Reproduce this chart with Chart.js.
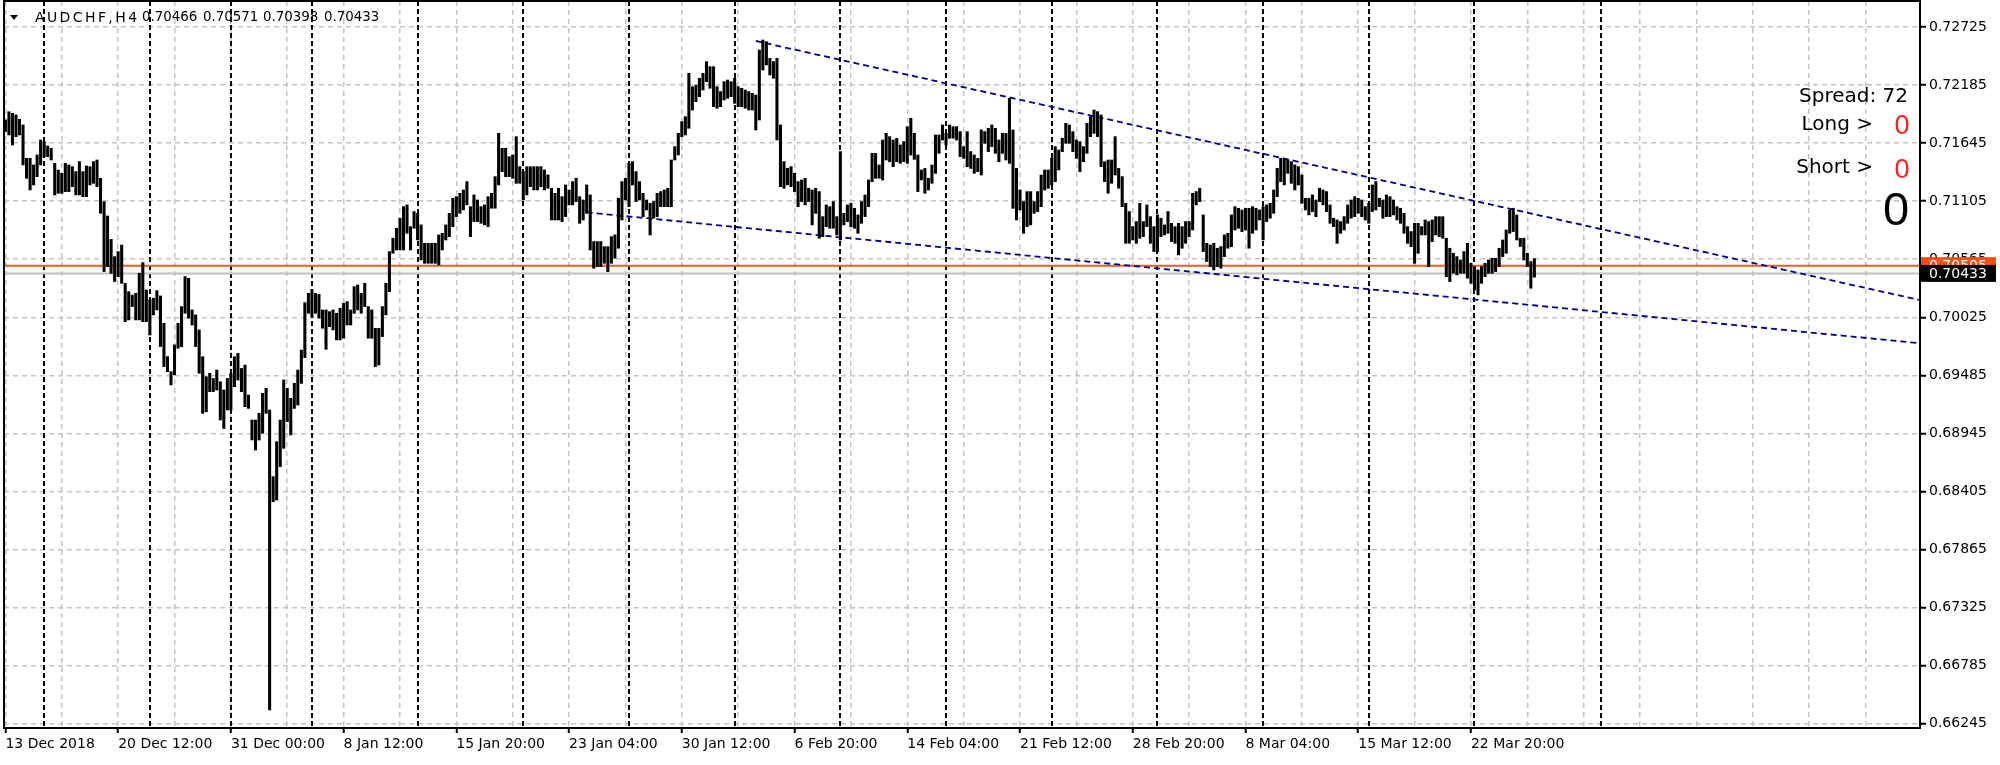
<!DOCTYPE html>
<html><head><meta charset="utf-8">
<script src="https://cdn.jsdelivr.net/npm/chart.js@4.4.1/dist/chart.umd.min.js"></script>
<style>html,body{margin:0;padding:0;background:#fff;overflow:hidden}canvas{display:block}</style>
</head><body>
<canvas id="c" width="2000" height="765" style="width:2000px;height:765px"></canvas>
<script>
// ---------- data ----------
const symbol = 'AUDCHF,H4';
const lastOHLC = [0.70466, 0.70571, 0.70398, 0.70433];
const bidPrice = 0.70433;
const askPrice = 0.70505;
const spreadPoints = 72;
const longCount = 0, shortCount = 0, netCount = 0;

const highs = [
0.71860,0.71937,0.71922,0.71907,0.71866,0.71814,0.71504,0.71504,0.71442,0.71535,
0.71674,0.71659,0.71618,0.71597,0.71457,0.71395,0.71364,0.71457,0.71442,0.71426,
0.71380,0.71473,0.71380,0.71432,0.71426,0.71473,0.71488,0.71318,0.71101,0.70967,
0.70750,0.70589,0.70636,0.70697,0.70341,0.70263,0.70232,0.70248,0.70434,0.70533,
0.70279,0.70186,0.70202,0.70273,0.70223,0.69969,0.69659,0.69519,0.69767,0.69969,
0.70124,0.70403,0.70387,0.70093,0.70047,0.69907,0.69658,0.69472,0.69503,0.69456,
0.69534,0.69425,0.69348,0.69456,0.69503,0.69658,0.69689,0.69549,0.69580,0.69301,
0.69069,0.69069,0.69131,0.69317,0.69364,0.69162,0.68542,0.68868,0.69069,0.69441,
0.69364,0.69271,0.69410,0.69534,0.69720,0.70161,0.70248,0.70285,0.70248,0.70239,
0.70093,0.70093,0.70077,0.70093,0.70062,0.70109,0.70155,0.70171,0.70093,0.70310,
0.70325,0.70248,0.70341,0.70124,0.70093,0.69922,0.69922,0.70124,0.70341,0.70636,
0.70760,0.70853,0.70946,0.71054,0.71070,0.70868,0.71008,0.70992,0.70884,0.70713,
0.70713,0.70713,0.70713,0.70791,0.70806,0.70884,0.70992,0.71132,0.71147,0.71178,
0.71209,0.71287,0.71054,0.71163,0.71116,0.71054,0.71070,0.71147,0.71178,0.71333,
0.71736,0.71597,0.71597,0.71519,0.71535,0.71705,0.71426,0.71380,0.71426,0.71426,
0.71426,0.71426,0.71426,0.71395,0.71349,0.71225,0.71178,0.71225,0.71147,0.71256,
0.71209,0.71287,0.71318,0.71147,0.71116,0.71256,0.71163,0.70729,0.70729,0.70729,
0.70682,0.70682,0.70775,0.70791,0.71132,0.71287,0.71318,0.71457,0.71473,0.71380,
0.71287,0.71178,0.71116,0.71085,0.71101,0.71178,0.71194,0.71209,0.71225,0.71488,
0.71612,0.71736,0.71845,0.71891,0.72294,0.72170,0.72186,0.72248,0.72294,0.72403,
0.72356,0.72356,0.72170,0.72124,0.72217,0.72232,0.72217,0.72248,0.72170,0.72155,
0.72139,0.72124,0.72108,0.72093,0.72511,0.72604,0.72589,0.72434,0.72403,0.72434,
0.71814,0.71473,0.71411,0.71426,0.71364,0.71287,0.71302,0.71318,0.71225,0.71209,
0.71225,0.71194,0.70961,0.71070,0.71054,0.71101,0.70961,0.71566,0.70992,0.71070,
0.71085,0.71039,0.70977,0.71101,0.71162,0.71302,0.71550,0.71550,0.71441,0.71674,
0.71736,0.71705,0.71674,0.71690,0.71628,0.71659,0.71798,0.71876,0.71736,0.71534,
0.71395,0.71410,0.71318,0.71441,0.71721,0.71721,0.71814,0.71736,0.71814,0.71798,
0.71798,0.71752,0.71612,0.71752,0.71566,0.71534,0.71503,0.71767,0.71752,0.71783,
0.71814,0.71783,0.71674,0.71736,0.71736,0.72061,0.71767,0.71410,0.71209,0.71101,
0.71194,0.71194,0.71101,0.71194,0.71348,0.71395,0.71395,0.71503,0.71612,0.71581,
0.71690,0.71829,0.71814,0.71752,0.71674,0.71659,0.71612,0.71829,0.71891,0.71953,
0.71938,0.71907,0.71472,0.71488,0.71488,0.71705,0.71410,0.71333,0.71085,0.71008,
0.70868,0.70915,0.71085,0.70915,0.71070,0.70961,0.70868,0.70977,0.70946,0.70884,
0.71008,0.70899,0.70868,0.70899,0.70868,0.70915,0.70915,0.71178,0.71194,0.71225,
0.70977,0.70713,0.70698,0.70713,0.70667,0.70682,0.70791,0.70806,0.70977,0.71054,
0.71039,0.71023,0.71039,0.71039,0.71054,0.71039,0.71023,0.71054,0.71070,0.71085,
0.71209,0.71411,0.71504,0.71504,0.71488,0.71473,0.71442,0.71426,0.71349,0.71132,
0.71132,0.71163,0.71116,0.71225,0.71209,0.71194,0.71070,0.70946,0.70930,0.70915,
0.70961,0.71070,0.71116,0.71147,0.71132,0.71116,0.71054,0.71085,0.71256,0.71287,
0.71132,0.71116,0.71163,0.71147,0.71116,0.71054,0.71039,0.70992,0.70868,0.70822,
0.70899,0.70899,0.70868,0.70930,0.70915,0.70930,0.70961,0.70961,0.70961,0.70760,
0.70667,0.70620,0.70589,0.70558,0.70636,0.70713,0.70527,0.70496,0.70465,0.70496,
0.70527,0.70558,0.70574,0.70574,0.70667,0.70744,0.70837,0.71023,0.71039,0.70977,
0.70760,0.70760,0.70620,0.70543,0.70571
];
const lows = [
0.71752,0.71721,0.71628,0.71705,0.71721,0.71442,0.71318,0.71209,0.71256,0.71333,
0.71442,0.71519,0.71519,0.71488,0.71163,0.71178,0.71178,0.71193,0.71193,0.71240,
0.71163,0.71163,0.71147,0.71147,0.71256,0.71271,0.71240,0.70992,0.70450,0.70496,
0.70434,0.70357,0.70403,0.70341,0.69984,0.70000,0.70124,0.70000,0.70000,0.69984,
0.69984,0.69860,0.70047,0.70093,0.69752,0.69566,0.69519,0.69396,0.69489,0.69737,
0.69752,0.70062,0.70016,0.69953,0.69752,0.69504,0.69131,0.69146,0.69333,0.69333,
0.69348,0.69069,0.68991,0.69162,0.69162,0.69379,0.69441,0.69333,0.69193,0.69177,
0.68883,0.68790,0.68883,0.68945,0.69131,0.66372,0.68309,0.68325,0.68635,0.68806,
0.69054,0.68930,0.69177,0.69208,0.69410,0.69650,0.70062,0.70031,0.70062,0.70016,
0.69923,0.69727,0.69938,0.69907,0.69814,0.69814,0.69830,0.69953,0.69953,0.70062,
0.70093,0.70062,0.70124,0.69830,0.69830,0.69566,0.69581,0.69845,0.70047,0.70263,
0.70620,0.70651,0.70651,0.70651,0.70806,0.70651,0.70853,0.70744,0.70558,0.70527,
0.70527,0.70527,0.70527,0.70512,0.70651,0.70744,0.70775,0.70868,0.70961,0.70992,
0.71023,0.71070,0.70775,0.70915,0.70915,0.70899,0.70884,0.70868,0.71039,0.71039,
0.71256,0.71380,0.71333,0.71333,0.71318,0.71271,0.71271,0.71116,0.71163,0.71240,
0.71209,0.71209,0.71240,0.71209,0.71225,0.70930,0.70930,0.70930,0.70915,0.70961,
0.71070,0.71070,0.71101,0.70899,0.70930,0.70992,0.70651,0.70481,0.70496,0.70496,
0.70527,0.70449,0.70527,0.70574,0.70667,0.70930,0.71116,0.71054,0.71256,0.71101,
0.71116,0.70961,0.71023,0.70791,0.70946,0.70961,0.71054,0.71054,0.71054,0.71054,
0.71488,0.71535,0.71705,0.71721,0.71783,0.71953,0.72031,0.72077,0.72139,0.72217,
0.72155,0.71984,0.71969,0.71984,0.72046,0.72062,0.72077,0.72015,0.71984,0.71984,
0.71969,0.71953,0.71953,0.71767,0.71860,0.72325,0.72372,0.72279,0.72248,0.71674,
0.71240,0.71225,0.71256,0.71240,0.71194,0.71054,0.71101,0.71070,0.71101,0.70884,
0.70992,0.70760,0.70775,0.70868,0.70853,0.70853,0.70791,0.70744,0.70884,0.70915,
0.70868,0.70853,0.70806,0.70899,0.70961,0.71054,0.71286,0.71318,0.71318,0.71302,
0.71488,0.71472,0.71426,0.71472,0.71457,0.71472,0.71457,0.71534,0.71494,0.71194,
0.71302,0.71178,0.71209,0.71271,0.71364,0.71550,0.71674,0.71628,0.71690,0.71690,
0.71674,0.71519,0.71504,0.71426,0.71410,0.71364,0.71380,0.71348,0.71643,0.71566,
0.71612,0.71550,0.71472,0.71550,0.71488,0.71457,0.71038,0.70930,0.71023,0.70806,
0.70868,0.70884,0.70992,0.71008,0.71054,0.71209,0.71225,0.71256,0.71286,0.71395,
0.71566,0.71643,0.71643,0.71566,0.71503,0.71380,0.71472,0.71550,0.71705,0.71736,
0.71705,0.71426,0.71286,0.71178,0.71271,0.71348,0.71225,0.71054,0.70713,0.70713,
0.70744,0.70713,0.70760,0.70775,0.70868,0.70713,0.70636,0.70636,0.70775,0.70791,
0.70806,0.70729,0.70713,0.70605,0.70667,0.70713,0.70775,0.70837,0.71070,0.71101,
0.70636,0.70543,0.70496,0.70465,0.70496,0.70481,0.70589,0.70667,0.70682,0.70837,
0.70853,0.70822,0.70837,0.70667,0.70806,0.70837,0.70930,0.70744,0.70915,0.70946,
0.70992,0.71147,0.71287,0.71256,0.71364,0.71271,0.71209,0.71256,0.71085,0.71023,
0.70977,0.71008,0.70961,0.71101,0.71070,0.71008,0.70899,0.70868,0.70713,0.70806,
0.70837,0.70899,0.70946,0.70961,0.70992,0.70961,0.70930,0.70899,0.71008,0.71023,
0.71054,0.70946,0.70961,0.70961,0.70977,0.70930,0.70899,0.70806,0.70713,0.70682,
0.70527,0.70620,0.70791,0.70791,0.70496,0.70729,0.70791,0.70775,0.70760,0.70403,
0.70357,0.70434,0.70419,0.70434,0.70434,0.70388,0.70341,0.70279,0.70233,0.70341,
0.70403,0.70434,0.70434,0.70450,0.70496,0.70589,0.70620,0.70806,0.70822,0.70744,
0.70682,0.70558,0.70496,0.70295,0.70398
];

const yTicks = [0.66245,0.66785,0.67325,0.67865,0.68405,0.68945,0.69485,0.70025,0.70565,0.71105,0.71645,0.72185,0.72725];
const timeLabels = ['13 Dec 2018','20 Dec 12:00','31 Dec 00:00','8 Jan 12:00','15 Jan 20:00','23 Jan 04:00','30 Jan 12:00',
                    '6 Feb 20:00','14 Feb 04:00','21 Feb 12:00','28 Feb 20:00','8 Mar 04:00','15 Mar 12:00','22 Mar 20:00'];
const barsPerLabel = 32;
const barsPerGrid = 16;
const weekStartBars = [11,41,64,87,117,147,177,207,237,267,297,327,357,387,417,453];
const upperTrendX = [213.0, 543.46], upperTrendY = [0.72595, 0.70185];
const lowerTrendX = [165.0, 543.46], lowerTrendY = [0.71001, 0.69783];
const xMin = -0.4, xMax = 543.46, yMin = 0.66204, yMax = 0.72967;

// ---------- chart ----------
const FONT = '"DejaVu Sans", sans-serif';
const barData = highs.map((h, i) => ({x: i, y: [lows[i], h]}));
const gridTicks = [];
for (let v = 0; v <= xMax; v += barsPerGrid) gridTicks.push(v);
const isLabelTick = v => v % barsPerLabel === 0 && v / barsPerLabel < timeLabels.length;

const mt4 = {
  id: 'mt4',
  beforeDatasetsDraw(chart) {
    const {ctx, chartArea: a, scales: {x}} = chart;
    ctx.save();
    ctx.strokeStyle = '#000'; ctx.lineWidth = 2; ctx.setLineDash([5, 3]);
    weekStartBars.forEach(i => {
      const px = Math.round(x.getPixelForValue(i));
      ctx.beginPath(); ctx.moveTo(px, a.top); ctx.lineTo(px, a.bottom); ctx.stroke();
    });
    ctx.restore();
  },
  afterDraw(chart) {
    const {ctx, chartArea: a, scales: {y}} = chart;
    ctx.save();
    // frame
    ctx.strokeStyle = '#000'; ctx.lineWidth = 2; ctx.setLineDash([]);
    ctx.strokeRect(a.left, a.top, a.right - a.left, a.bottom - a.top);
    // price boxes
    const ya = y.getPixelForValue(askPrice), yb = y.getPixelForValue(bidPrice);
    ctx.font = '14px ' + FONT; ctx.textBaseline = 'middle'; ctx.textAlign = 'left';
    ctx.fillStyle = '#ff4f14'; ctx.fillRect(a.right + 1, ya - 8.5, 75, 17);
    ctx.fillStyle = '#fff'; ctx.fillText(askPrice.toFixed(5), a.right + 9, ya + 1);
    ctx.fillStyle = '#000'; ctx.fillRect(a.right + 1, yb - 8.5, 75, 17);
    ctx.fillStyle = '#fff'; ctx.fillText(bidPrice.toFixed(5), a.right + 9, yb + 1);
    // title
    ctx.fillStyle = '#000';
    ctx.beginPath(); ctx.moveTo(10, 15); ctx.lineTo(18, 15); ctx.lineTo(14, 20); ctx.closePath(); ctx.fill();
    ctx.font = '14px ' + FONT;
    ctx.letterSpacing = '2.4px';
    ctx.fillText(symbol, 35, 18);
    ctx.letterSpacing = '0px';
    ctx.font = '13.4px ' + FONT;
    const numX = [142, 203, 263, 324];
    lastOHLC.forEach((v, i) => ctx.fillText(v.toFixed(5), numX[i], 18));
    // info block
    ctx.textAlign = 'right';
    ctx.font = '20px ' + FONT;
    ctx.fillText('Spread: ' + spreadPoints, 1908, 97);
    ctx.fillText('Long >', 1873, 125);
    ctx.fillText('Short >', 1873, 168);
    ctx.textAlign = 'center';
    ctx.font = '27px "Liberation Sans", sans-serif';
    ctx.fillStyle = '#ff2020';
    ctx.fillText(String(longCount), 1902, 127);
    ctx.fillText(String(shortCount), 1902, 171);
    ctx.fillStyle = '#000';
    ctx.font = '47px "Liberation Sans", sans-serif';
    ctx.fillText(String(netCount), 1896, 212);
    ctx.restore();
  }
};

new Chart(document.getElementById('c'), {
  type: 'bar',
  data: {
    datasets: [
      {type: 'bar', data: barData, backgroundColor: '#000', borderWidth: 0, barThickness: 2.4, order: 0},
      {type: 'line', data: upperTrendX.map((v, i) => ({x: v, y: upperTrendY[i]})), borderColor: '#000080', borderWidth: 1.8, borderDash: [6, 4], pointRadius: 0, order: 1},
      {type: 'line', data: lowerTrendX.map((v, i) => ({x: v, y: lowerTrendY[i]})), borderColor: '#000080', borderWidth: 1.8, borderDash: [6, 4], pointRadius: 0, order: 1},
      {type: 'line', data: [{x: xMin, y: bidPrice}, {x: xMax, y: bidPrice}], borderColor: '#c0c0c0', borderWidth: 2, pointRadius: 0, order: 3},
      {type: 'line', data: [{x: xMin, y: askPrice}, {x: xMax, y: askPrice}], borderColor: '#ee5a28', borderWidth: 2, pointRadius: 0, order: 2}
    ]
  },
  options: {
    responsive: false, animation: false, devicePixelRatio: 1, events: [],
    layout: {padding: {left: 4, top: 1, right: 0, bottom: 0}},
    plugins: {legend: {display: false}, tooltip: {enabled: false}},
    scales: {
      x: {
        type: 'linear', min: xMin, max: xMax, offset: false,
        afterBuildTicks: s => { s.ticks = gridTicks.map(v => ({value: v})); },
        afterFit: s => { s.height = 37; s.paddingLeft = 0; s.paddingRight = 0; },
        ticks: {
          autoSkip: false, maxRotation: 0, minRotation: 0, align: 'start', padding: 3,
          color: '#000', font: {family: FONT, size: 14},
          callback: v => isLabelTick(v) ? timeLabels[v / barsPerLabel] : ''
        },
        grid: {
          offset: false, color: '#c4c4c4', lineWidth: 1.5, drawTicks: true, tickLength: 5, tickWidth: 2,
          tickColor: c => (c.tick && isLabelTick(c.tick.value)) ? '#000' : 'rgba(0,0,0,0)', tickBorderDash: []
        },
        border: {display: false, dash: [5, 4]}
      },
      y: {
        type: 'linear', position: 'right', min: yMin, max: yMax,
        afterBuildTicks: s => { s.ticks = yTicks.map(v => ({value: v})); },
        afterFit: s => { s.width = 80; s.paddingTop = 0; s.paddingBottom = 0; },
        ticks: {padding: 3, color: '#000', font: {family: FONT, size: 14}, callback: v => v.toFixed(5)},
        grid: {color: '#c4c4c4', lineWidth: 1.5, drawTicks: true, tickLength: 6, tickWidth: 2, tickColor: '#000', tickBorderDash: []},
        border: {display: false, dash: [5, 4]}
      }
    }
  },
  plugins: [mt4]
});
</script>
</body></html>
